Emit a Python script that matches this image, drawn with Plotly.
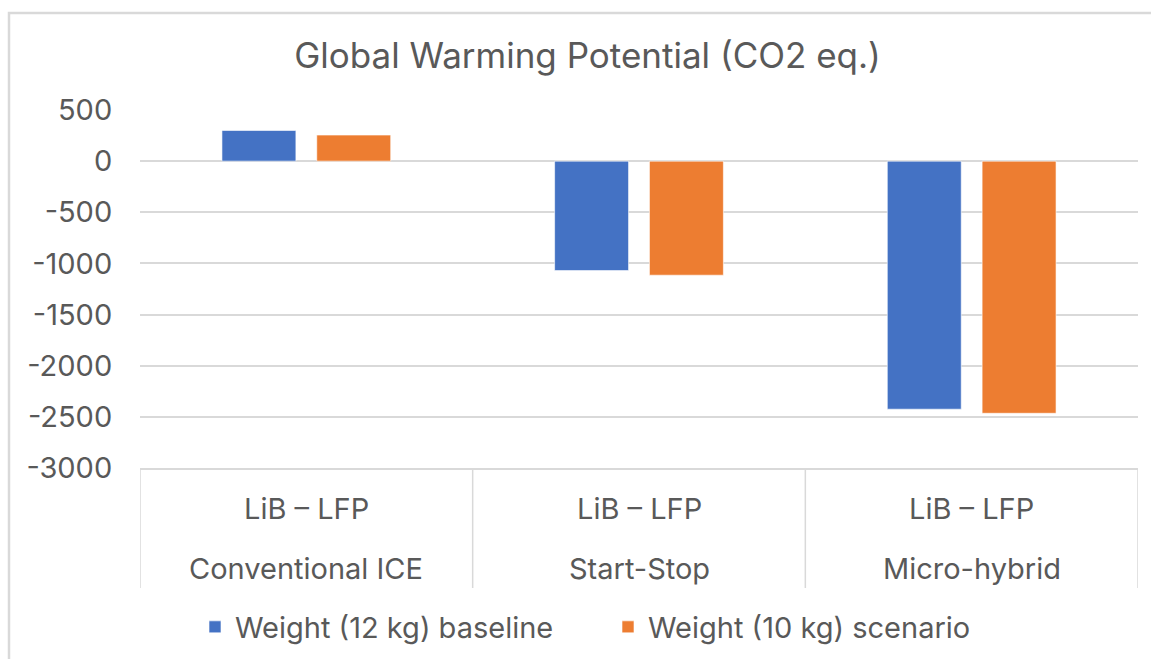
import plotly.graph_objects as go

# Battery / vehicle configurations
vehicles = ["Conventional ICE", "Start-Stop", "Micro-hybrid"]
chemistry = ["LiB – LFP", "LiB – LFP", "LiB – LFP"]

# Global warming potential, kg CO2 eq.
baseline_12kg = [300, -1070, -2425]
scenario_10kg = [255, -1115, -2465]

series_names = ["Weight (12 kg) baseline", "Weight (10 kg) scenario"]
y_ticks = [500, 0, -500, -1000, -1500, -2000, -2500, -3000]

FONT = "Inter, 'Open Sans', sans-serif"
TEXT = "#595959"
GRID = "#D9D9D9"
LABEL_SIZE = 29
W, H = 1151, 659
L, R, T, B = 140, 13, 110, 191
plot_h = H - T - B

fig = go.Figure()
fig.add_trace(go.Bar(
    x=vehicles, y=baseline_12kg, name=series_names[0],
    marker=dict(color="#4472C4", line=dict(color="rgba(255,255,255,0.6)", width=1)),
))
fig.add_trace(go.Bar(
    x=vehicles, y=scenario_10kg, name=series_names[1],
    marker=dict(color="#ED7D31", line=dict(color="rgba(255,255,255,0.6)", width=1)),
))

# Two-row category labels below the plot
ann = []
for v, c in zip(vehicles, chemistry):
    ann.append(dict(x=v, xref="x", y=-40 / plot_h, yref="paper", text=c,
                    showarrow=False, yanchor="middle",
                    font=dict(family=FONT, size=LABEL_SIZE, color=TEXT)))
    ann.append(dict(x=v, xref="x", y=-100 / plot_h, yref="paper", text=v,
                    showarrow=False, yanchor="middle",
                    font=dict(family=FONT, size=LABEL_SIZE, color=TEXT)))

# Vertical dividers of the category axis
shapes = []
for xb in [-0.5, 0.5, 1.5, 2.5]:
    shapes.append(dict(type="line", xref="x", yref="paper", x0=xb, x1=xb,
                       y0=0, y1=-120 / plot_h, line=dict(color=GRID, width=1.5)))
# Chart area frame
shapes.append(dict(type="rect", xref="paper", yref="paper",
                   x0=(9 - L) / (W - L - R), x1=(W + 20 - L) / (W - L - R),
                   y0=-(B + 20) / plot_h, y1=1 + (T - 13) / plot_h,
                   line=dict(color=GRID, width=2.5), fillcolor="rgba(0,0,0,0)",
                   layer="below"))

fig.update_layout(
    width=W, height=H,
    margin=dict(l=L, r=R, t=T, b=B),
    paper_bgcolor="white", plot_bgcolor="white",
    barmode="group", bargap=0.43, bargroupgap=0.22,
    title=dict(text="Global Warming Potential (CO2 eq.)",
               x=(587.5 - L) / (W - L - R), xref="paper", xanchor="center",
               y=1 - 56 / H, yref="container", yanchor="middle",
               font=dict(family=FONT, size=35, color=TEXT)),
    xaxis=dict(type="category", range=[-0.5, 2.5], showticklabels=False,
               showgrid=False, showline=True, linecolor=GRID, linewidth=1.5,
               zeroline=False, fixedrange=True),
    yaxis=dict(range=[-3000, 500], tickvals=y_ticks,
               ticktext=[str(v) for v in y_ticks],
               showgrid=True, gridcolor=GRID, gridwidth=1.5,
               zeroline=False, showline=False,
               ticks="outside", ticklen=21, tickcolor="rgba(0,0,0,0)",
               tickfont=dict(family=FONT, size=LABEL_SIZE, color=TEXT)),
    legend=dict(orientation="h", x=195 / W, xref="container", xanchor="left",
                y=1 - 627 / H, yref="container", yanchor="middle",
                entrywidth=368, entrywidthmode="pixels",
                font=dict(family=FONT, size=LABEL_SIZE, color=TEXT),
                bgcolor="rgba(0,0,0,0)", traceorder="normal"),
    annotations=ann, shapes=shapes,
)

fig.write_html("out.html")
